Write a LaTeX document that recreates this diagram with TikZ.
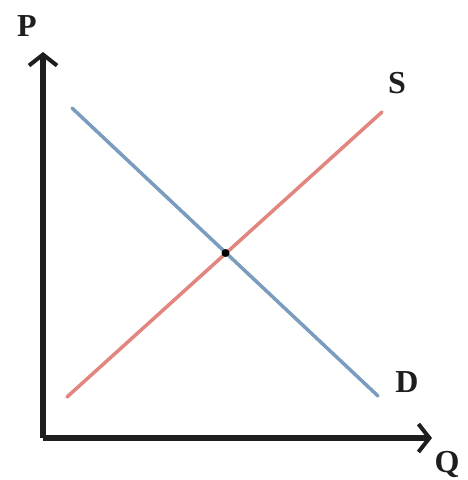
\documentclass[tikz,border=0pt]{standalone}
\usepackage{fontspec}
\setmainfont{Liberation Serif}
\usetikzlibrary{arrows.meta}
\definecolor{demandblue}{HTML}{7A9CBF}
\definecolor{supplyred}{HTML}{E2857F}
\definecolor{axisblack}{HTML}{1E1E1E}
\tikzset{
  axis/.style={draw=axisblack, line width=5.5pt, -{Straight Barb[length=11pt,width=28pt,line width=4pt]}},
  curve/.style={line width=3.5pt, line cap=round},
  lbl/.style={font=\fontsize{32}{32}\selectfont\bfseries, text=axisblack, inner sep=0pt},
  eqdot/.style={circle, fill=black, minimum size=8pt, inner sep=0pt}
}
\begin{document}
\begin{tikzpicture}[x=1pt,y=-1pt]
\useasboundingbox (0,0) rectangle (467,480);
\fill[white] (0,0) rectangle (467,480);
\coordinate (O) at (43,438);
\coordinate (Ptop) at (43,52);
\coordinate (Qend) at (432,438);
\coordinate (D1) at (72,108);
\coordinate (D2) at (378,396);
\coordinate (S1) at (67,397);
\coordinate (S2) at (382,112);
\draw[axis] (O) -- (Ptop);
\draw[axis] (O) -- (Qend);
\draw[curve, demandblue] (D1) -- (D2);
\draw[curve, supplyred] (S1) -- (S2);
\node[eqdot] (E) at (225.5,253) {};
\node[lbl] (P) at (27,26) {P};
\node[lbl] (Q) at (447,464) {Q};
\node[lbl] (S) at (397,83) {S};
\node[lbl] (D) at (407,382) {D};
\end{tikzpicture}
\end{document}
